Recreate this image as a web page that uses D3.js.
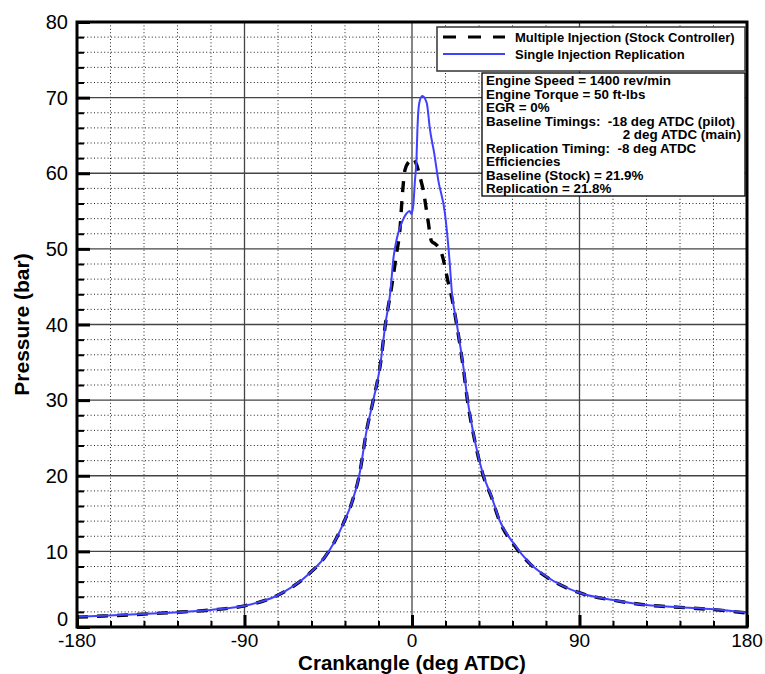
<!DOCTYPE html>
<html>
<head>
<meta charset="utf-8">
<script src="https://cdn.jsdelivr.net/npm/d3@7"></script>
<style>
  body { margin: 0; background: #fff; }
  svg text { font-family: Arial, "Liberation Sans", sans-serif; white-space: pre; }
</style>
</head>
<body>
<div class="chart-container"></div>
<script>
//! DATA
const singleAngle = [-180, -166, -148, -130, -108, -90, -73, -55, -47, -42, -36, -32.4, -28.3, -24.3, -20.8, -17.2, -14.2, -11.5, -10.1, -8.3, -5.6, -2.9, -1.3, -0.3, 0.7, 1.6, 2.4, 2.9, 3.9, 5.5, 7.9, 9.7, 11.9, 14.1, 17.7, 20.4, 21.3, 24, 27.6, 29.9, 33, 38.3, 42.8, 46.9, 54.4, 63.4, 72.4, 90.3, 108, 126, 144, 162, 180]
const singlePressure = [1.37, 1.5, 1.68, 1.9, 2.25, 2.8, 4.1, 7.1, 9.2, 11.1, 14.2, 16.4, 20.1, 26.1, 30.0, 34.4, 40.2, 44.6, 48.5, 51.2, 53.4, 54.7, 55.0, 54.6, 55.8, 59.1, 61.8, 65.7, 69.3, 70.2, 69.3, 65.7, 62.7, 59.1, 54.7, 47.7, 44.6, 40.2, 34.4, 30.0, 25.6, 20.1, 17.2, 14.2, 11.1, 8.4, 6.65, 4.5, 3.57, 2.9, 2.6, 2.34, 1.9]

const multiAngle = [-180, -166, -148, -130, -108, -90, -73, -55, -47, -42, -36, -32.4, -28.3, -24.3, -20.8, -17.2, -14.2, -11.2, -8.3, -6.5, -5.2, -3.8, -1.5, 0.5, 2.5, 4.2, 6, 8.4, 10.5, 12.3, 14, 15.9, 19.5, 21.6, 24, 27.6, 29.9, 33, 38.3, 42.8, 46.9, 54.4, 63.4, 72.4, 90.3, 108, 126, 144, 162, 180]
const multiPressure = [1.3, 1.45, 1.65, 1.9, 2.25, 2.8, 4.1, 7.1, 9.2, 11.1, 14.2, 16.4, 20.1, 26.1, 30.0, 34.4, 40.2, 44.6, 49.4, 52.5, 57.1, 60.4, 61.6, 62.0, 61.1, 59.6, 57.8, 54.1, 51.0, 50.7, 50.3, 49.4, 45.5, 43.3, 40.0, 34.2, 29.8, 25.5, 20.0, 17.1, 14.1, 11.0, 8.35, 6.6, 4.5, 3.55, 2.9, 2.6, 2.3, 1.85]

const xTicks = [-180, -90, 0, 90, 180]
const yTicks = [0, 10, 20, 30, 40, 50, 60, 70, 80]
const legendLabels = ['Multiple Injection (Stock Controller)', 'Single Injection Replication']
const noteLines = [
  'Engine Speed = 1400 rev/min',
  'Engine Torque = 50 ft-lbs',
  'EGR = 0%',
  'Baseline Timings:  -18 deg ATDC (pilot)',
  '2 deg ATDC (main)',
  'Replication Timing:  -8 deg ATDC',
  'Efficiencies',
  'Baseline (Stock) = 21.9%',
  'Replication = 21.8%'
]

//! CONSTS
const width = 765
const height = 674
const plotLeft = 77, plotRight = 747, plotTop = 22, plotBottom = 627

const svg = d3.select('.chart-container')
  .append('svg')
  .attr('width', width)
  .attr('height', height)

//! SCALES
const xScale = d3.scaleLinear().domain([-180, 180]).range([plotLeft, plotRight])
const yScale = d3.scaleLinear().domain([0, 80]).range([plotBottom, plotTop])

const minorX = d3.range(-180, 181, 18).filter(v => v % 90 !== 0)
const minorY = d3.range(0, 81, 2).filter(v => v % 10 !== 0)

//! GRID
const grid = svg.append('g')
grid.selectAll('.vminor').data(minorX).enter().append('line')
  .attr('x1', d => xScale(d)).attr('x2', d => xScale(d))
  .attr('y1', plotTop).attr('y2', plotBottom)
  .attr('stroke', '#222').attr('stroke-width', 1).attr('stroke-dasharray', '1,2.4')
grid.selectAll('.hminor').data(minorY).enter().append('line')
  .attr('x1', plotLeft).attr('x2', plotRight)
  .attr('y1', d => yScale(d)).attr('y2', d => yScale(d))
  .attr('stroke', '#222').attr('stroke-width', 1).attr('stroke-dasharray', '1,2.4')
grid.selectAll('.vmajor').data([-90, 0, 90]).enter().append('line')
  .attr('x1', d => xScale(d)).attr('x2', d => xScale(d))
  .attr('y1', plotTop).attr('y2', plotBottom)
  .attr('stroke', '#444').attr('stroke-width', 1.3)
grid.selectAll('.hmajor').data(yTicks.slice(1, -1)).enter().append('line')
  .attr('x1', plotLeft).attr('x2', plotRight)
  .attr('y1', d => yScale(d)).attr('y2', d => yScale(d))
  .attr('stroke', '#444').attr('stroke-width', 1.3)

//! CURVES
svg.append('clipPath').attr('id', 'clip')
  .append('rect').attr('x', plotLeft).attr('y', plotTop)
  .attr('width', plotRight - plotLeft).attr('height', plotBottom - plotTop)

const line = d3.line()
  .x(d => xScale(d[0]))
  .y(d => yScale(d[1]))
  .curve(d3.curveMonotoneX)

const multi = multiAngle.map((a, i) => [a, multiPressure[i]])
const single = singleAngle.map((a, i) => [a, singlePressure[i]])

svg.append('path')
  .attr('clip-path', 'url(#clip)')
  .attr('d', line(multi))
  .attr('fill', 'none')
  .attr('stroke', '#000')
  .attr('stroke-width', 3.4)
  .attr('stroke-dasharray', '11,9')

svg.append('path')
  .attr('clip-path', 'url(#clip)')
  .attr('d', line(single))
  .attr('fill', 'none')
  .attr('stroke', '#4040ff')
  .attr('stroke-width', 2)

//! AXES (ticks inward)
const xAxis = d3.axisTop(xScale).tickValues(xTicks).tickSize(12).tickFormat('')
const xAxisMinor = d3.axisTop(xScale).tickValues(minorX).tickSize(6).tickFormat('')
const yAxis = d3.axisRight(yScale).tickValues(yTicks).tickSize(13).tickFormat('')
const yAxisMinor = d3.axisRight(yScale).tickValues(minorY).tickSize(7).tickFormat('')

svg.append('g').attr('transform', `translate(0,${plotBottom})`).call(xAxisMinor)
  .call(g => g.selectAll('line').attr('stroke-width', 2))
svg.append('g').attr('transform', `translate(0,${plotBottom})`).call(xAxis)
  .call(g => g.selectAll('line').attr('stroke-width', 3))
svg.append('g').attr('transform', `translate(${plotLeft},0)`).call(yAxisMinor)
  .call(g => g.selectAll('line').attr('stroke-width', 2))
svg.append('g').attr('transform', `translate(${plotLeft},0)`).call(yAxis)
  .call(g => g.selectAll('line').attr('stroke-width', 3))
svg.selectAll('.domain').remove()

// frame
svg.append('rect')
  .attr('x', plotLeft).attr('y', plotTop)
  .attr('width', plotRight - plotLeft).attr('height', plotBottom - plotTop)
  .attr('fill', 'none').attr('stroke', '#000').attr('stroke-width', 3)

// tick labels
svg.selectAll('.xlab').data(xTicks).enter().append('text')
  .attr('x', d => xScale(d)).attr('y', 647)
  .attr('text-anchor', 'middle')
  .attr('font-size', 19)
  .text(d => d)
svg.selectAll('.ylab').data(yTicks).enter().append('text')
  .attr('x', 68).attr('y', d => d === 0 ? yScale(d) - 8.5 : yScale(d))
  .attr('dy', '0.36em')
  .attr('text-anchor', 'end')
  .attr('font-size', 20)
  .text(d => d)

// axis titles
svg.append('text')
  .attr('x', xScale(0)).attr('y', 670)
  .attr('text-anchor', 'middle')
  .attr('font-size', 20.5).attr('font-weight', 'bold')
  .text('Crankangle (deg ATDC)')
svg.append('text')
  .attr('transform', `translate(29,${yScale(40)}) rotate(-90)`)
  .attr('text-anchor', 'middle')
  .attr('font-size', 21).attr('font-weight', 'bold')
  .text('Pressure (bar)')

//! LEGEND
const legend = svg.append('g')
legend.append('rect')
  .attr('x', 437).attr('y', 27).attr('width', 308).attr('height', 44)
  .attr('fill', '#fff').attr('stroke', '#333').attr('stroke-width', 1.5)
legend.append('line')
  .attr('x1', 443).attr('x2', 505).attr('y1', 37).attr('y2', 37)
  .attr('stroke', '#000').attr('stroke-width', 3).attr('stroke-dasharray', '13,12')
legend.append('line')
  .attr('x1', 443).attr('x2', 505).attr('y1', 54).attr('y2', 54)
  .attr('stroke', '#4040ff').attr('stroke-width', 2)
legend.selectAll('.legtext').data(legendLabels).enter().append('text')
  .attr('x', 515).attr('y', (d, i) => 41.5 + i * 17)
  .attr('font-size', 13).attr('font-weight', 'bold')
  .text(d => d)

//! NOTE BOX
const note = svg.append('g')
note.append('rect')
  .attr('x', 482).attr('y', 73).attr('width', 263).attr('height', 123)
  .attr('fill', '#fff').attr('stroke', '#000').attr('stroke-width', 1.3)
note.selectAll('.notetext').data(noteLines).enter().append('text')
  .attr('x', (d, i) => i === 4 ? 741 : 486)
  .attr('y', (d, i) => 85 + i * 13.5)
  .attr('text-anchor', (d, i) => i === 4 ? 'end' : 'start')
  .attr('font-size', 13.4).attr('font-weight', 'bold')
  .text(d => d)
</script>
</body>
</html>
